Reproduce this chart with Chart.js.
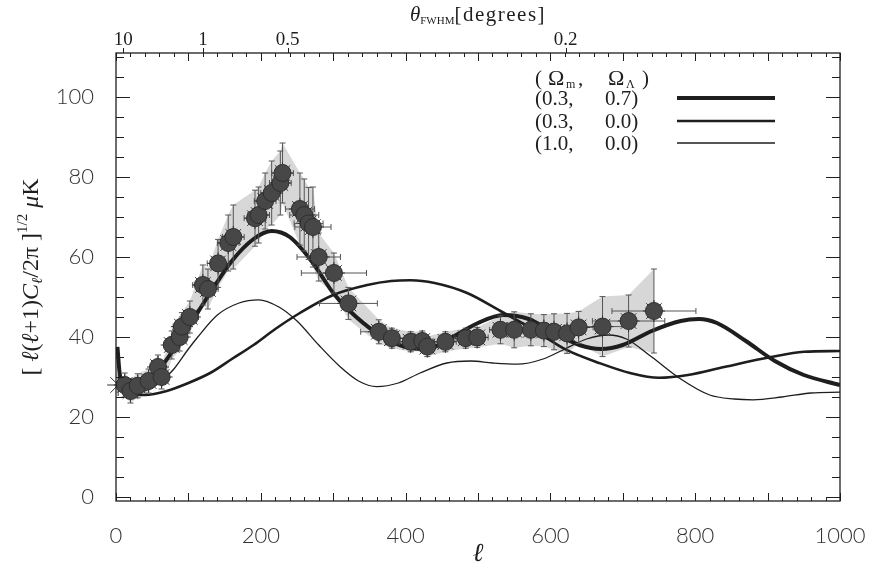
<!DOCTYPE html>
<html>
<head>
<meta charset="utf-8">
<script src="https://cdn.jsdelivr.net/npm/chart.js@4.4.1/dist/chart.umd.min.js"></script>
<style>
	html, body { margin: 0; padding: 0; background: #fff; }
	#cmbChart { display: block; }
</style>
</head>
<body>
<canvas id="cmbChart" width="883" height="573"></canvas>
<script>
// band powers
const dataEll = [12, 20, 30, 45, 58, 63, 77, 88, 91, 102, 120, 127, 141, 155, 162, 192, 197, 206, 215, 227, 230, 254, 260, 266, 272, 280, 301, 321, 363, 381, 407, 423, 430, 455, 483, 499, 531, 550, 573, 591, 605, 623, 639, 672, 708, 743];
const dataPower = [28, 26.5, 27.8, 29, 32.5, 30, 38, 40, 42.6, 45, 53, 52, 58.4, 63.5, 65, 69.7, 70.5, 74, 76, 78.5, 81, 72, 70.5, 68.4, 67.5, 60, 56, 48.4, 41.3, 39.7, 38.8, 39, 37.6, 38.8, 39.7, 39.9, 41.8, 41.8, 41.8, 41.6, 41.3, 40.9, 42.4, 42.6, 44, 46.5];
const dataErrY = [3, 3, 3, 3, 3, 3, 3.5, 3.5, 3.5, 4, 5, 5, 6, 7, 8, 7, 7, 7, 8, 8, 7.5, 9, 9, 9, 10, 6, 5, 4, 3, 2.5, 2.5, 2.5, 2.5, 2.5, 2.5, 2.5, 3.5, 4.5, 4, 4, 4.5, 5, 4, 7.5, 6.5, 10.5];
const dataErrX = [6, 8, 10, 10, 10, 10, 10, 10, 12, 12, 14, 14, 15, 15, 15, 15, 15, 15, 15, 15, 15, 20, 20, 20, 25, 30, 45, 40, 25, 20, 15, 15, 15, 15, 15, 15, 15, 15, 15, 15, 15, 15, 20, 40, 50, 58];
const cobeEll = [3];
const cobePower = [28];

// model curves
const lcdmEll = [2, 5, 10, 20, 40, 60, 80, 100, 130, 160, 190, 215, 240, 270, 300, 320, 360, 400, 430, 460, 500, 535, 570, 600, 640, 670, 700, 740, 780, 805, 830, 870, 910, 950, 1000];
const lcdmPower = [37.5, 31, 28, 27, 28.5, 32, 37, 42.5, 51, 59, 64.5, 66.5, 65, 59, 51, 47, 41, 37.5, 37, 39.5, 43.5, 45.5, 44.5, 41.5, 38, 37, 38, 41.5, 44, 44.5, 43.5, 39, 34, 30.5, 28];
const openEll = [2, 10, 20, 40, 70, 100, 130, 160, 190, 220, 254, 300, 347, 380, 407, 440, 485, 531, 577, 623, 669, 710, 750, 790, 840, 905, 950, 1000];
const openPower = [29, 27, 26, 25.5, 26.5, 28.5, 31, 34.5, 38, 42, 46, 50.5, 53, 54, 54.2, 53.5, 51, 46.5, 41.8, 36.7, 33.4, 31, 29.8, 30.5, 32.5, 35, 36.3, 36.5];
const scdmEll = [2, 10, 20, 40, 60, 80, 100, 113, 140, 170, 197, 225, 250, 280, 310, 335, 360, 390, 420, 457, 490, 520, 554, 590, 620, 650, 680, 705, 740, 780, 820, 854, 880, 920, 960, 1000];
const scdmPower = [28.5, 27, 26, 26.5, 28.5, 32, 37, 40, 45.5, 48.5, 49.3, 47.5, 44, 38, 32.5, 29, 27.6, 28.5, 31, 33.5, 34, 33.5, 33.2, 34.5, 37, 39.5, 40.5, 39.5, 35, 29.5, 25.5, 24.5, 24.3, 25, 26, 26.2];

const xTicks = [0, 200, 400, 600, 800, 1000];
const yTicks = [0, 20, 40, 60, 80, 100];
const thetaEll = [10, 120, 237, 621];
const thetaLabels = ['10', '1', '0.5', '0.2'];

const legendRows = ['(0.3,', '(0.3,', '(1.0,'];
const legendRowsB = ['0.7)', '0.0)', '0.0)'];

const toPoints = (ell, vals) => ell.map((l, i) => ({ x: l, y: vals[i] }));

(() => {
	'use strict'

	const ink = '#1e1e1e';
	const serif = '"Liberation Serif", "DejaVu Serif", serif';

	function drawRich(ctx, parts, x, y, align) {
		let width = 0;
		parts.forEach((p) => {
			ctx.font = p.font;
			ctx.letterSpacing = p.ls || '0px';
			width += ctx.measureText(p.text).width;
		});
		let cx = align === 'center' ? x - width / 2 : x;
		parts.forEach((p) => {
			ctx.font = p.font;
			ctx.letterSpacing = p.ls || '0px';
			ctx.fillText(p.text, cx, y + (p.dy || 0));
			cx += ctx.measureText(p.text).width;
		});
		ctx.letterSpacing = '0px';
	}

	const errorBars = {
		id: 'errorBars',
		beforeDatasetDraw(chart, args) {
			if (args.index !== 1) {
				return;
			}
			const { ctx, scales: { x, y } } = chart;
			ctx.save();
			ctx.strokeStyle = '#555';
			ctx.lineWidth = 1;
			dataEll.forEach((l, i) => {
				const px = x.getPixelForValue(l);
				const py = y.getPixelForValue(dataPower[i]);
				const x0 = x.getPixelForValue(l - dataErrX[i]);
				const x1 = x.getPixelForValue(l + dataErrX[i]);
				const y0 = y.getPixelForValue(dataPower[i] - dataErrY[i]);
				const y1 = y.getPixelForValue(dataPower[i] + dataErrY[i]);
				ctx.beginPath();
				ctx.moveTo(x0, py); ctx.lineTo(x1, py);
				ctx.moveTo(x0, py - 3); ctx.lineTo(x0, py + 3);
				ctx.moveTo(x1, py - 3); ctx.lineTo(x1, py + 3);
				ctx.moveTo(px, y0); ctx.lineTo(px, y1);
				ctx.moveTo(px - 3, y0); ctx.lineTo(px + 3, y0);
				ctx.moveTo(px - 3, y1); ctx.lineTo(px + 3, y1);
				ctx.stroke();
			});
			ctx.restore();
		}
	};

	const frame = {
		id: 'frame',
		afterDatasetsDraw(chart) {
			const { ctx, chartArea: a, scales: { x, y } } = chart;
			ctx.save();
			ctx.strokeStyle = ink;
			ctx.lineWidth = 1.3;
			ctx.strokeRect(a.left, a.top, a.right - a.left, a.bottom - a.top);
			ctx.lineWidth = 1;
			ctx.beginPath();
			for (let v = 0; v <= 1000; v += 20) {
				const px = Math.round(x.getPixelForValue(v)) + 0.5;
				const len = v % 100 === 0 ? 8 : 4;
				ctx.moveTo(px, a.bottom); ctx.lineTo(px, a.bottom - len);
				ctx.moveTo(px, a.top); ctx.lineTo(px, a.top + len);
			}
			for (let v = 0; v <= 110; v += 5) {
				const py = Math.round(y.getPixelForValue(v)) + 0.5;
				const len = v % 20 === 0 ? 14 : 8;
				ctx.moveTo(a.left, py); ctx.lineTo(a.left + len, py);
				ctx.moveTo(a.right, py); ctx.lineTo(a.right - len, py);
			}
			thetaEll.forEach((l) => {
				const px = Math.round(x.getPixelForValue(l)) + 0.5;
				ctx.moveTo(px, a.top); ctx.lineTo(px, a.top - 5);
			});
			ctx.stroke();
			ctx.restore();
		},
		afterDraw(chart) {
			const { ctx, chartArea: a, scales: { x } } = chart;
			const midX = (a.left + a.right) / 2;
			const midY = (a.top + a.bottom) / 2;
			ctx.save();
			ctx.fillStyle = ink;
			ctx.textBaseline = 'alphabetic';

			// top axis: angular scale labels
			ctx.font = '19px ' + serif;
			ctx.textAlign = 'center';
			thetaEll.forEach((l, i) => {
				ctx.fillText(thetaLabels[i], x.getPixelForValue(l), 45);
			});
			ctx.textAlign = 'left';

			// top axis title
			drawRich(ctx, [
				{ text: 'θ', font: 'italic 21px ' + serif },
				{ text: 'FWHM', font: '11px ' + serif, dy: 3 },
				{ text: '[degrees]', font: '21px ' + serif, ls: '1.5px' }
			], midX, 21, 'center');

			// bottom axis title
			drawRich(ctx, [{ text: 'ℓ', font: 'italic 26px ' + serif }], midX, 561, 'center');

			// y axis title
			ctx.save();
			ctx.translate(38, midY);
			ctx.rotate(-Math.PI / 2);
			const big = '24px ' + serif;
			const it = 'italic 24px ' + serif;
			drawRich(ctx, [
				{ text: '[ ', font: big },
				{ text: 'ℓ', font: it },
				{ text: '(', font: big },
				{ text: 'ℓ', font: it },
				{ text: '+1)', font: big },
				{ text: 'C', font: it },
				{ text: 'ℓ', font: 'italic 15px ' + serif, dy: 4 },
				{ text: '/2π ]', font: big },
				{ text: '1/2', font: '15px ' + serif, dy: -11 },
				{ text: ' μ', font: it },
				{ text: 'K', font: big }
			], 0, 0, 'center');
			ctx.restore();

			// legend
			const lf = '21px ' + serif;
			ctx.font = lf;
			ctx.fillText('(', 535, 85);
			ctx.font = '22px ' + serif;
			ctx.fillText('Ω', 548, 85);
			ctx.fillText('Ω', 608, 85);
			ctx.font = '12px ' + serif;
			ctx.fillText('m', 566, 88);
			ctx.fillText('Λ', 626, 88);
			ctx.font = lf;
			ctx.fillText(',', 578, 85);
			ctx.fillText(')', 642, 85);
			const rowY = [105, 128, 150];
			const widths = [4, 2.6, 1.3];
			legendRows.forEach((t, i) => {
				ctx.font = lf;
				ctx.fillText(t, 535, rowY[i]);
				ctx.fillText(legendRowsB[i], 605, rowY[i]);
				ctx.beginPath();
				ctx.strokeStyle = ink;
				ctx.lineWidth = widths[i];
				ctx.moveTo(677, rowY[i] - 7);
				ctx.lineTo(775, rowY[i] - 7);
				ctx.stroke();
			});
			ctx.restore();
		}
	};

	const tickFont = { family: 'Lato, "DejaVu Sans", sans-serif', size: 22, weight: '300' };

	new Chart(document.getElementById('cmbChart'), {
		type: 'line',
		data: {
			datasets: [
				{
					label: 'data',
					data: toPoints(dataEll, dataPower),
					showLine: false,
					pointStyle: 'circle',
					pointRadius: 8.5,
					pointBackgroundColor: '#474747',
					pointBorderColor: '#2e2e2e',
					pointBorderWidth: 1
				},
				{
					label: 'spikes',
					data: toPoints(dataEll, dataPower).concat(toPoints(cobeEll, cobePower)),
					showLine: false,
					pointStyle: 'star',
					pointRadius: 11,
					pointBorderColor: '#333',
					pointBorderWidth: 1,
					clip: false
				},
				{
					label: '(0.3, 0.7)',
					data: toPoints(lcdmEll, lcdmPower),
					borderColor: ink,
					borderWidth: 4,
					pointRadius: 0,
					cubicInterpolationMode: 'monotone',
					fill: false
				},
				{
					label: '(0.3, 0.0)',
					data: toPoints(openEll, openPower),
					borderColor: ink,
					borderWidth: 2.6,
					pointRadius: 0,
					cubicInterpolationMode: 'monotone',
					fill: false
				},
				{
					label: '(1.0, 0.0)',
					data: toPoints(scdmEll, scdmPower),
					borderColor: ink,
					borderWidth: 1.3,
					pointRadius: 0,
					cubicInterpolationMode: 'monotone',
					fill: false
				},
				{
					label: 'upper',
					data: dataEll.map((l, i) => ({ x: l, y: dataPower[i] + dataErrY[i] })),
					borderWidth: 0,
					pointRadius: 0,
					tension: 0,
					fill: false
				},
				{
					label: 'lower',
					data: dataEll.map((l, i) => ({ x: l, y: dataPower[i] - dataErrY[i] })),
					borderWidth: 0,
					pointRadius: 0,
					tension: 0,
					backgroundColor: 'rgba(160, 160, 160, 0.42)',
					fill: '-1'
				}
			]
		},
		options: {
			responsive: false,
			animation: false,
			layout: { padding: { left: 0, right: 43, top: 53, bottom: 0 } },
			plugins: {
				legend: { display: false },
				tooltip: { enabled: false }
			},
			scales: {
				x: {
					type: 'linear',
					min: 0,
					max: 1000,
					grid: { display: false },
					border: { display: false },
					afterBuildTicks: (axis) => { axis.ticks = xTicks.map((v) => ({ value: v })); },
					afterFit: (axis) => { axis.height = 72; },
					ticks: { font: tickFont, color: '#333', padding: 14, maxRotation: 0, callback: (v) => String(v) }
				},
				y: {
					min: -1,
					max: 111,
					grid: { display: false },
					border: { display: false },
					afterBuildTicks: (axis) => { axis.ticks = yTicks.map((v) => ({ value: v })); },
					afterFit: (axis) => { axis.width = 116; },
					ticks: { font: tickFont, color: '#333', padding: 14, callback: (v) => String(v) }
				}
			}
		},
		plugins: [errorBars, frame]
	});
})()
</script>
</body>
</html>
